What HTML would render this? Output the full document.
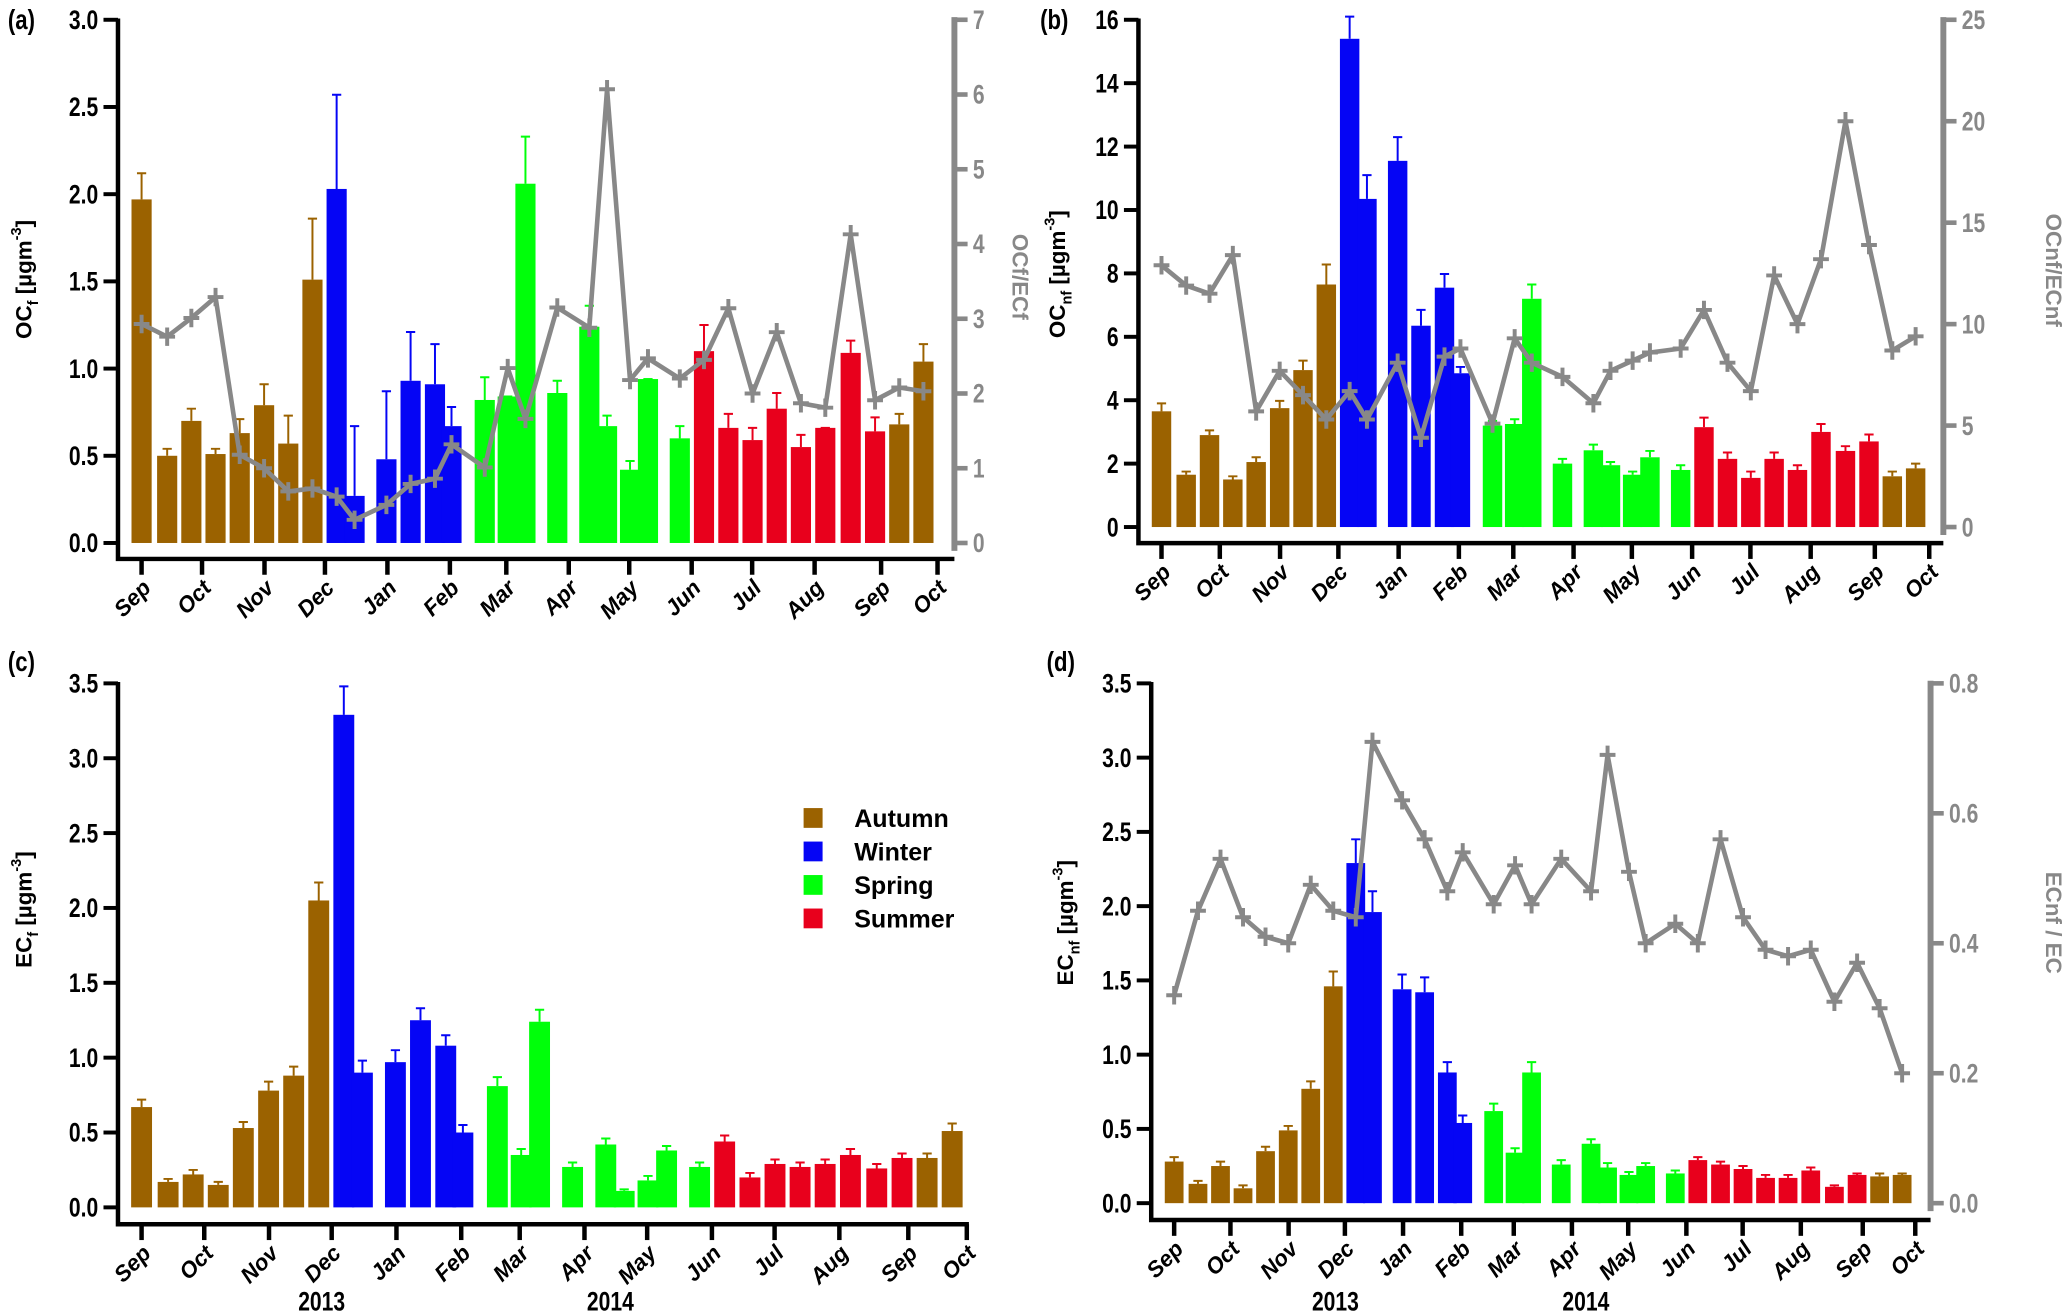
<!DOCTYPE html>
<html><head><meta charset="utf-8"><style>
html,body{margin:0;padding:0;background:#fff;}
svg{display:block;}
text{font-family:"Liberation Sans",sans-serif;font-weight:bold;}
</style></head><body>
<svg id="fig" xmlns="http://www.w3.org/2000/svg" width="2067" height="1316" viewBox="0 0 1568 998.3"></svg>
<script>
const sampleDays=[0,12.7,24.7,36.7,48.7,60.8,72.8,84.8,96.8,105.7,121.5,133.5,145.6,153.8,170.3,181.7,190.5,206.3,222.2,231,242.4,251.3,267.1,279.1,291.2,303.2,315.2,327.2,339.3,351.9,364,376,388];
const seasons=['A','A','A','A','A','A','A','A','W','W','W','W','W','W','S','S','S','S','S','S','S','S','S','U','U','U','U','U','U','U','U','A','A'];
const monthLabels=['Sep','Oct','Nov','Dec','Jan','Feb','Mar','Apr','May','Jun','Jul','Aug','Sep','Oct'];
const monthDays=[0,30,61,91,122,153,181,212,242,273,303,334,367,395];
const ocfVals=[1.97,0.50,0.70,0.51,0.63,0.79,0.57,1.51,2.03,0.27,0.48,0.93,0.91,0.67,0.82,0.84,2.06,0.86,1.24,0.67,0.42,0.94,0.60,1.10,0.66,0.59,0.77,0.55,0.66,1.09,0.64,0.68,1.04];
const ocfErrTop=[2.12,0.54,0.77,0.54,0.71,0.91,0.73,1.86,2.57,0.67,0.87,1.21,1.14,0.78,0.95,0.84,2.33,0.93,1.36,0.73,0.47,0.94,0.67,1.25,0.74,0.66,0.86,0.62,0.66,1.16,0.72,0.74,1.14];
const ocfRatio=[2.93,2.76,3.01,3.29,1.18,1.0,0.69,0.73,0.62,0.31,0.51,0.79,0.86,1.32,1.01,2.34,1.66,3.15,2.88,6.07,2.18,2.47,2.2,2.45,3.14,2.0,2.82,1.87,1.81,4.13,1.91,2.08,2.03];
const ocnfVals=[3.65,1.65,2.9,1.5,2.05,3.75,4.95,7.65,15.4,10.35,11.55,6.35,7.55,4.85,3.2,3.25,7.2,2.0,2.42,1.95,1.65,2.2,1.8,3.15,2.15,1.55,2.15,1.8,3.0,2.4,2.7,1.6,1.85];
const ocnfErrTop=[3.9,1.75,3.05,1.6,2.2,3.98,5.25,8.28,16.1,11.1,12.3,6.85,7.98,5.05,3.35,3.4,7.65,2.15,2.6,2.05,1.75,2.4,1.95,3.45,2.35,1.75,2.35,1.95,3.25,2.55,2.92,1.75,2.0];
const ocnfRatio=[12.9,11.9,11.5,13.4,5.7,7.7,6.5,5.3,6.7,5.3,8.1,4.4,8.4,8.8,5.1,9.3,8.1,7.4,6.1,7.7,8.2,8.6,8.8,10.7,8.1,6.7,12.4,10.0,13.2,20.0,13.9,8.7,9.4];
const ecfVals=[0.67,0.17,0.22,0.15,0.53,0.78,0.88,2.05,3.29,0.90,0.97,1.25,1.08,0.50,0.81,0.35,1.24,0.27,0.42,0.11,0.18,0.38,0.27,0.44,0.20,0.29,0.27,0.29,0.35,0.26,0.33,0.33,0.51];
const ecfErrTop=[0.72,0.19,0.25,0.17,0.57,0.84,0.94,2.17,3.48,0.98,1.05,1.33,1.15,0.55,0.87,0.39,1.32,0.30,0.46,0.12,0.21,0.41,0.30,0.48,0.23,0.32,0.30,0.32,0.39,0.29,0.36,0.36,0.56];
const ecnfVals=[0.28,0.13,0.25,0.10,0.35,0.49,0.77,1.46,2.29,1.96,1.44,1.42,0.88,0.54,0.62,0.34,0.88,0.26,0.40,0.24,0.19,0.25,0.20,0.29,0.26,0.23,0.17,0.17,0.22,0.11,0.19,0.18,0.19];
const ecnfErrTop=[0.31,0.15,0.28,0.12,0.38,0.52,0.82,1.56,2.45,2.10,1.54,1.52,0.95,0.59,0.67,0.37,0.95,0.29,0.43,0.27,0.21,0.27,0.22,0.31,0.28,0.25,0.19,0.19,0.24,0.12,0.20,0.20,0.20];
const ecnfRatio=[0.32,0.45,0.53,0.44,0.41,0.40,0.49,0.45,0.44,0.71,0.62,0.56,0.48,0.54,0.46,0.52,0.46,0.53,0.48,0.69,0.51,0.40,0.43,0.40,0.56,0.44,0.39,0.38,0.39,0.31,0.37,0.30,0.20];
const ticksA=[0,0.5,1,1.5,2,2.5,3];
const ticksARight=[0,1,2,3,4,5,6,7];
const ticksB=[0,2,4,6,8,10,12,14,16];
const ticksBRight=[0,5,10,15,20,25];
const ticksC=[0,0.5,1,1.5,2,2.5,3,3.5];
const ticksDRight=[0,0.2,0.4,0.6,0.8];
const legendLabels=['Autumn','Winter','Spring','Summer'];
const legendKeys=['A','W','S','U'];

const colors={A:'#9b6200',W:'#0505f5',S:'#00ff0a',U:'#e8001c'};
const NS='http://www.w3.org/2000/svg';
const svg=document.getElementById('fig');
function mk(tag,attrs,parent){const e=document.createElementNS(NS,tag);for(const k in attrs)e.setAttribute(k,attrs[k]);(parent||svg).appendChild(e);return e;}
function txt(s,attrs,parent){const t=mk('text',attrs,parent);t.textContent=s;return t;}
// narrow text: scaled horizontally
function ntxt(s,x,y,size,anchor,fill,parent){
  return txt(s,{transform:`translate(${x},${y}) scale(0.8,1)`,'text-anchor':anchor,'font-size':size,fill:fill||'#000'},parent);
}

function panel(c){
  const g=mk('g',{});
  
  
  const xs=d=>c.x0+(d/395)*(c.x1-c.x0);
  const ys=v=>c.y0-(v/c.ymax)*(c.y0-c.yTop);
  const yr=v=>c.y0-(v/c.rmax)*(c.y0-c.yTop);
  const bw=(c.x1-c.x0)*10/395;
  for(let i=0;i<c.vals.length;i++){
    const x=xs(sampleDays[i]);const col=colors[seasons[i]];
    const b=mk('rect',{x:x-bw/2,y:ys(c.vals[i]),width:bw,height:c.y0-ys(c.vals[i]),fill:col},g);
    
    
    const e=mk('path',{d:`M${x} ${ys(c.vals[i])}V${ys(c.errs[i])}M${x-3.5} ${ys(c.errs[i])}H${x+3.5}`,stroke:col,'stroke-width':1.5,fill:'none'},g);
    
    
  }
  if(c.ratio){
    const pts=c.ratio.map((v,i)=>xs(sampleDays[i])+','+yr(v)).join(' ');
    const l=mk('polyline',{points:pts,fill:'none',stroke:'#888','stroke-width':3.5,'stroke-linejoin':'round'},g);
    
    
    c.ratio.forEach((v,i)=>{const x=xs(sampleDays[i]),y=yr(v);
      const m=mk('path',{d:`M${x-6} ${y}H${x+6}M${x} ${y-7}V${y+7}`,stroke:'#888','stroke-width':3},g);
      
      });
  }
  const ax=mk('path',{d:`M${c.left} ${c.yTop-1}V${c.xAxisY}H${c.right}`,stroke:'#000','stroke-width':3.4,fill:'none'},g);
  
  
  c.ticks.forEach(v=>{const y=ys(v);
    mk('line',{x1:c.left-11,x2:c.left,y1:y,y2:y,stroke:'#000','stroke-width':3},g);
    const t=ntxt(c.fmt(v),c.left-15,y+7,20,'end','#000',g);
    
    });
  if(c.rticks){
    mk('line',{x1:c.right,x2:c.right,y1:c.yTop-2,y2:c.y0+6,stroke:'#888','stroke-width':4.5},g);
    c.rticks.forEach(v=>{const y=yr(v);
      mk('line',{x1:c.right,x2:c.right+10,y1:y,y2:y,stroke:'#888','stroke-width':3.5},g);
      const t=ntxt(c.rfmt(v),c.right+14,y+7,20,'start','#888',g);
      
      });
    const rt=txt(c.rtitle,{transform:`translate(${c.rtx},${c.rty}) rotate(90)`,'text-anchor':'middle','font-size':17,fill:'#888'},g);
    
    
  }
  monthDays.forEach((d,i)=>{const x=xs(d);
    mk('line',{x1:x,x2:x,y1:c.xAxisY,y2:c.xAxisY+12,stroke:'#000','stroke-width':3.4},g);
    const t=txt(monthLabels[i],{transform:`translate(${x+8},${c.xAxisY+23}) rotate(-45)`,'text-anchor':'end','font-size':17,'font-style':'italic'},g);
    
    });
  const yt=txt('',{transform:`translate(${c.ytx},${c.yty}) rotate(-90)`,'text-anchor':'middle','font-size':17},g);
  yt.innerHTML=c.ytitle;
  
  
  const pl=ntxt(c.label,c.lx,c.ly,21,'start','#000',g);
  
  
}
const f1=v=>v.toFixed(1), f0=v=>String(v);
const sub=(a,b)=>`${a}<tspan font-size="11" dy="5">${b}</tspan><tspan dy="-5"> [µgm</tspan><tspan font-size="11" dy="-8">-3</tspan><tspan dy="8">]</tspan>`;
panel({name:'panel-a',label:'(a)',lx:6,ly:22,left:89.5,right:724,xAxisY:424,y0:411.9,yTop:15,ymax:3,x0:107.4,x1:711.2,
 vals:ocfVals,errs:ocfErrTop,ratio:ocfRatio,rmax:7,ticks:ticksA,fmt:f1,rticks:ticksARight,rfmt:f0,
 rtitle:'OCf/ECf',rtx:768,rty:210,ytitle:sub('OC','f'),ytx:24,yty:212});
panel({name:'panel-b',label:'(b)',lx:789,ly:22,left:863.6,right:1474.2,xAxisY:412,y0:399.8,yTop:15,ymax:16,x0:881.1,x1:1463.5,
 vals:ocnfVals,errs:ocnfErrTop,ratio:ocnfRatio,rmax:25,ticks:ticksB,fmt:f0,rticks:ticksBRight,rfmt:f0,
 rtitle:'OCnf/ECnf',rtx:1552,rty:205,ytitle:sub('OC','nf'),ytx:808,yty:208});
panel({name:'panel-c',label:'(c)',lx:6,ly:509,left:89.5,right:735,xAxisY:928.7,y0:915.9,yTop:518.4,ymax:3.5,x0:107.4,x1:733.4,
 vals:ecfVals,errs:ecfErrTop,ratio:null,ticks:ticksC,fmt:f1,
 ytitle:sub('EC','f'),ytx:24,yty:690});
panel({name:'panel-d',label:'(d)',lx:794,ly:509,left:873.3,right:1464.5,xAxisY:925.5,y0:912.7,yTop:518.4,ymax:3.5,x0:890.7,x1:1452.9,
 vals:ecnfVals,errs:ecnfErrTop,ratio:ecnfRatio,rmax:0.8,ticks:ticksC,fmt:f1,rticks:ticksDRight,rfmt:f1,
 rtitle:'ECnf / EC',rtx:1552,rty:700,ytitle:sub('EC','nf'),ytx:814,yty:700});
[['2013',244,994],['2014',463,994],['2013',1013,994],['2014',1203,994]].forEach(a=>{
  const t=ntxt(a[0],a[1],a[2],20,'middle','#000');
  
  });
legendLabels.forEach((s,i)=>{const y=620.5+i*25.4;
  const r=mk('rect',{x:609.6,y:y-7.5,width:14.4,height:15,fill:colors[legendKeys[i]]});
  
  
  const t=txt(s,{x:648,y:y+7,'font-size':19});
  
  });
</script>
</body></html>
